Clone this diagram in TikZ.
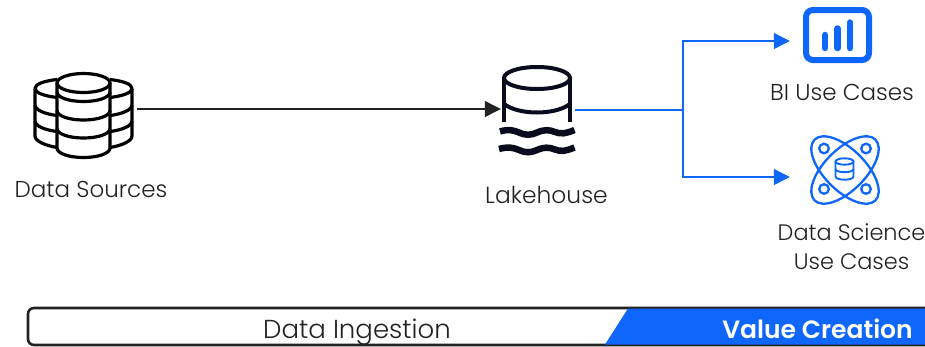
\documentclass[tikz,border=0pt]{standalone}
\usepackage{fontspec}
\setmainfont{Poppins}
\newfontfamily\lightf{Poppins Light}
\newfontfamily\semif{Poppins SemiBold}
\usetikzlibrary{arrows.meta}
\definecolor{ablue}{HTML}{0F66FA}
\definecolor{inkc}{HTML}{0B0B1E}
\definecolor{txtc}{HTML}{222222}
\tikzset{
  lbl/.style={text=txtc,font=\lightf\fontsize{23}{29}\selectfont,inner sep=0pt,align=center},
  icn/.style={line width=3.2pt,draw=black,line join=round},
  holder/.style={inner sep=0pt,draw=none},
  conn/.style={line width=1.1pt,draw=#1,-{Triangle[length=16pt,width=16pt,fill=#1]}},
  plainconn/.style={line width=1.1pt,draw=#1},
  wave/.style={line width=6.5pt,draw=inkc},
  dsline/.style={line width=2.3pt,draw=ablue},
}
\begin{document}
\begin{tikzpicture}[x=1pt,y=-1pt]
\useasboundingbox (0,0) rectangle (925,346);
\clip (0,0) rectangle (925,346);
% holders
\node[holder,minimum width=100pt,minimum height=88pt] (src) at (85,109) {};
\node[holder,minimum width=72pt,minimum height=90pt] (lake) at (537,109) {};
\node[holder,minimum width=70pt,minimum height=58pt] (bi) at (825,41) {};
\node[holder,minimum width=70pt,minimum height=72pt] (ds) at (825,177) {};
\coordinate (split) at (683,110);
\coordinate (lakeout) at (575,110);
% data sources icon: side cylinders
\draw[icn] (57,79.5) .. controls (44,81) and (35,84) .. (35,88.5) .. controls (35,93) and (45,96) .. (57,97.5);
\draw[icn] (110,79.5) .. controls (123,81) and (132,84) .. (132,88.5) .. controls (132,93) and (122,96) .. (110,97.5);
\draw[icn] (35,88.5) -- (35,136) .. controls (35,141) and (45,145.5) .. (57,147.5);
\draw[icn] (132,88.5) -- (132,136) .. controls (132,141) and (122,145.5) .. (110,147.5);
\draw[icn] (35,105) .. controls (35,110) and (45,114) .. (57,115.5);
\draw[icn] (132,105) .. controls (132,110) and (122,114) .. (110,115.5);
\draw[icn] (35,121) .. controls (35,126) and (45,130) .. (57,131.5);
\draw[icn] (132,121) .. controls (132,126) and (122,130) .. (110,131.5);
% data sources icon: centre cylinder
\draw[icn] (83.5,83) ellipse [x radius=26.5,y radius=9.5];
\draw[icn] (57,83) -- (57,148) .. controls (57,153.5) and (69,157.5) .. (83.5,157.5) .. controls (98,157.5) and (110,153.5) .. (110,148) -- (110,83);
\foreach \yy in {92,110.5,128.5}
  \draw[icn] (57,\yy) .. controls (57,\yy+5.5) and (69,\yy+9.5) .. (83.5,\yy+9.5) .. controls (98,\yy+9.5) and (110,\yy+5.5) .. (110,\yy);
% lakehouse icon
\draw[line width=4pt,draw=inkc] (537,78) ellipse [x radius=33,y radius=11];
\draw[line width=4pt,draw=inkc] (504,78) -- (504,122);
\draw[line width=4pt,draw=inkc] (570,78) -- (570,122);
\draw[line width=4pt,draw=inkc] (504,104) .. controls (512,110) and (525,112.5) .. (537,112.5) .. controls (549,112.5) and (562,110) .. (570,104);
\draw[wave] (500,131.5) .. controls (508,129) and (513,130) .. (519,132.5) .. controls (526,135.5) and (530,135.5) .. (537,132.5) .. controls (544,129.5) and (549,129.5) .. (555,132) .. controls (561,134.5) and (566,133.5) .. (574.5,130);
\draw[wave] (499,149) .. controls (508,146.5) and (513,147.5) .. (519,150) .. controls (526,153) and (530,153) .. (537,150) .. controls (544,147) and (549,147) .. (555,149.5) .. controls (561,152) and (566,151) .. (574.5,147.5);
% BI icon
\draw[line width=6pt,draw=ablue,rounded corners=7pt] (806,10) rectangle (869,60);
\foreach \xx/\tp in {825/35,837.5/28.5,850/22.5}
  \draw[line width=6.5pt,draw=ablue,line cap=round] (\xx,\tp) -- (\xx,48);
% data science icon
\draw[dsline,rotate around={45:(845,170)}] (845,170) ellipse [x radius=43,y radius=20.5];
\draw[dsline,rotate around={-45:(845,170)}] (845,170) ellipse [x radius=43,y radius=20.5];
\foreach \cx/\cy in {824/148.5,866/148.5,824/189,866/189}
  \draw[dsline] (\cx,\cy) circle [radius=4.8];
\begin{scope}[line width=1.9pt,draw=ablue]
\draw (844.5,161.5) ellipse [x radius=9,y radius=3.2];
\draw (835.5,161.5) -- (835.5,176.5) .. controls (835.5,178.5) and (840,179.7) .. (844.5,179.7) .. controls (849,179.7) and (853.5,178.5) .. (853.5,176.5) -- (853.5,161.5);
\draw (835.5,169) .. controls (835.5,171) and (840,172.2) .. (844.5,172.2) .. controls (849,172.2) and (853.5,171) .. (853.5,169);
\end{scope}
% connectors
\draw[conn=txtc] (src) ++(52,0) -- (lake.west);
\draw[plainconn=ablue] (lakeout) -- (split);
\draw[conn=ablue] (split) |- (bi.west) ;
\draw[conn=ablue] (split) |- (ds.west);
% labels
\node[lbl] (t1) at (91,189) {Data Sources};
\node[lbl,font=\lightf\fontsize{23.4}{29}\selectfont] (t2) at (546.5,195) {Lakehouse};
\node[lbl] (t3) at (842,92) {BI Use Cases};
\node[lbl,font=\lightf\fontsize{22.4}{29}\selectfont] (t4) at (851.5,246.5) {Data Science\\Use Cases};
% band
\draw[line width=2.6pt,draw=txtc,rounded corners=6pt] (28,308) -- (28,345) -- (945,345) -- (945,308) -- cycle;
\fill[ablue] (628,308.5) -- (605,344.5) -- (926,344.5) -- (926,308.5) -- cycle;
\node[lbl,font=\lightf\fontsize{26}{29}\selectfont] (t5) at (357,332) {Data Ingestion};
\node[lbl,text=white,font=\semif\fontsize{25}{29}\selectfont] (t6) at (817.5,329) {Value Creation};
\end{tikzpicture}
\end{document}
